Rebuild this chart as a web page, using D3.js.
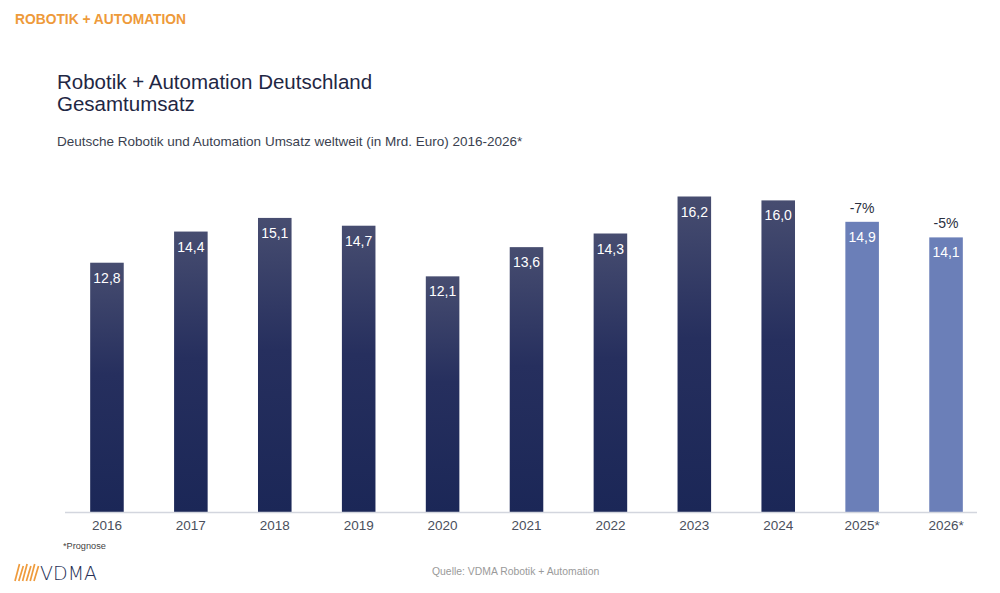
<!DOCTYPE html>
<html>
<head>
<meta charset="utf-8">
<script src="https://cdn.jsdelivr.net/npm/d3@7"></script>
<style>
  body { margin: 0; background: #fff; }
  svg { font-family: "Liberation Sans", Arial, sans-serif; }
</style>
</head>
<body>
<div id="chart"></div>
<script>
// Data
const years = ["2016", "2017", "2018", "2019", "2020", "2021", "2022", "2023", "2024", "2025*", "2026*"];
const values = [12.8, 14.4, 15.1, 14.7, 12.1, 13.6, 14.3, 16.2, 16.0, 14.9, 14.1];
const forecast = [false, false, false, false, false, false, false, false, false, true, true];
const changes = ["", "", "", "", "", "", "", "", "", "-7%", "-5%"];

const width = 1000, height = 593;
const svg = d3.select('#chart').append('svg')
  .attr('width', width)
  .attr('height', height);

// Gradient for actual bars
const defs = svg.append('defs');
const grad = defs.append('linearGradient')
  .attr('id', 'barGrad')
  .attr('x1', 0).attr('y1', 0).attr('x2', 0).attr('y2', 1);
grad.append('stop').attr('offset', '0%').attr('stop-color', '#474d70');
grad.append('stop').attr('offset', '45%').attr('stop-color', '#262f5e');
grad.append('stop').attr('offset', '100%').attr('stop-color', '#1b2757');

// Header texts
svg.append('text')
  .attr('x', 15).attr('y', 24)
  .attr('font-size', 13.8).attr('font-weight', 'bold')
  .attr('fill', '#ee9a3a')
  .text('ROBOTIK + AUTOMATION');
svg.append('text')
  .attr('x', 57).attr('y', 89)
  .attr('font-size', 20.5).attr('fill', '#1f2744')
  .text('Robotik + Automation Deutschland');
svg.append('text')
  .attr('x', 57).attr('y', 111)
  .attr('font-size', 20.5).attr('fill', '#1f2744')
  .text('Gesamtumsatz');
svg.append('text')
  .attr('x', 57).attr('y', 146)
  .attr('font-size', 13.5).attr('fill', '#3a3f4f')
  .text('Deutsche Robotik und Automation Umsatz weltweit (in Mrd. Euro) 2016-2026*');

// Scales
const x = d3.scaleBand()
  .domain(years)
  .range([65, 988])
  .paddingInner(0.6)
  .paddingOuter(0.3);
const y = d3.scaleLinear()
  .domain([0, 16.2])
  .range([512, 196.5]);

// Bars
const bars = svg.selectAll('g.bar')
  .data(years.map((yr, i) => ({yr, v: values[i], f: forecast[i], c: changes[i]})))
  .enter().append('g')
  .attr('class', 'bar');

bars.append('rect')
  .attr('x', d => x(d.yr))
  .attr('y', d => y(d.v))
  .attr('width', x.bandwidth())
  .attr('height', d => y(0) - y(d.v))
  .attr('fill', d => d.f ? '#6b7fb8' : 'url(#barGrad)');

bars.append('text')
  .attr('x', d => x(d.yr) + x.bandwidth() / 2)
  .attr('y', d => y(d.v) + 20)
  .attr('text-anchor', 'middle')
  .attr('font-size', 14)
  .attr('fill', '#fff')
  .text(d => d.v.toFixed(1).replace('.', ','));

bars.filter(d => d.c).append('text')
  .attr('x', d => x(d.yr) + x.bandwidth() / 2)
  .attr('y', d => y(d.v) - 9)
  .attr('text-anchor', 'middle')
  .attr('font-size', 14)
  .attr('fill', '#2a2f40')
  .text(d => d.c);

// X axis
const axis = svg.append('g')
  .attr('transform', `translate(0,${y(0)})`)
  .call(d3.axisBottom(x).tickSize(0).tickPadding(8));
axis.select('.domain')
  .attr('d', 'M65,0.5H977')
  .attr('stroke', '#d3d6de')
  .attr('stroke-width', 1.5);
axis.selectAll('text')
  .attr('font-family', '"Liberation Sans", Arial, sans-serif')
  .attr('font-size', 13.5)
  .attr('fill', '#4a4f5c');

// Footnotes
svg.append('text')
  .attr('x', 63).attr('y', 549)
  .attr('font-size', 9.2).attr('fill', '#444')
  .text('*Prognose');
svg.append('text')
  .attr('x', 432).attr('y', 575)
  .attr('font-size', 10.4).attr('fill', '#9a9a9a')
  .text('Quelle: VDMA Robotik + Automation');

// VDMA logo
const logo = svg.append('g').attr('transform', 'translate(14,561)');
d3.range(6).forEach(i => {
  logo.append('line')
    .attr('x1', 1 + i * 3.8).attr('y1', 20)
    .attr('x2', 5.5 + i * 3.8).attr('y2', 3 + (i % 2) * 2)
    .attr('stroke', '#ef9b3c')
    .attr('stroke-width', 1.7);
});
logo.append('text')
  .attr('x', 26).attr('y', 19)
  .attr('font-size', 19).attr('fill', '#263056')
  .attr('font-family', '"DejaVu Sans", sans-serif')
  .attr('font-weight', 300)
  .text('VDMA');
</script>
</body>
</html>
